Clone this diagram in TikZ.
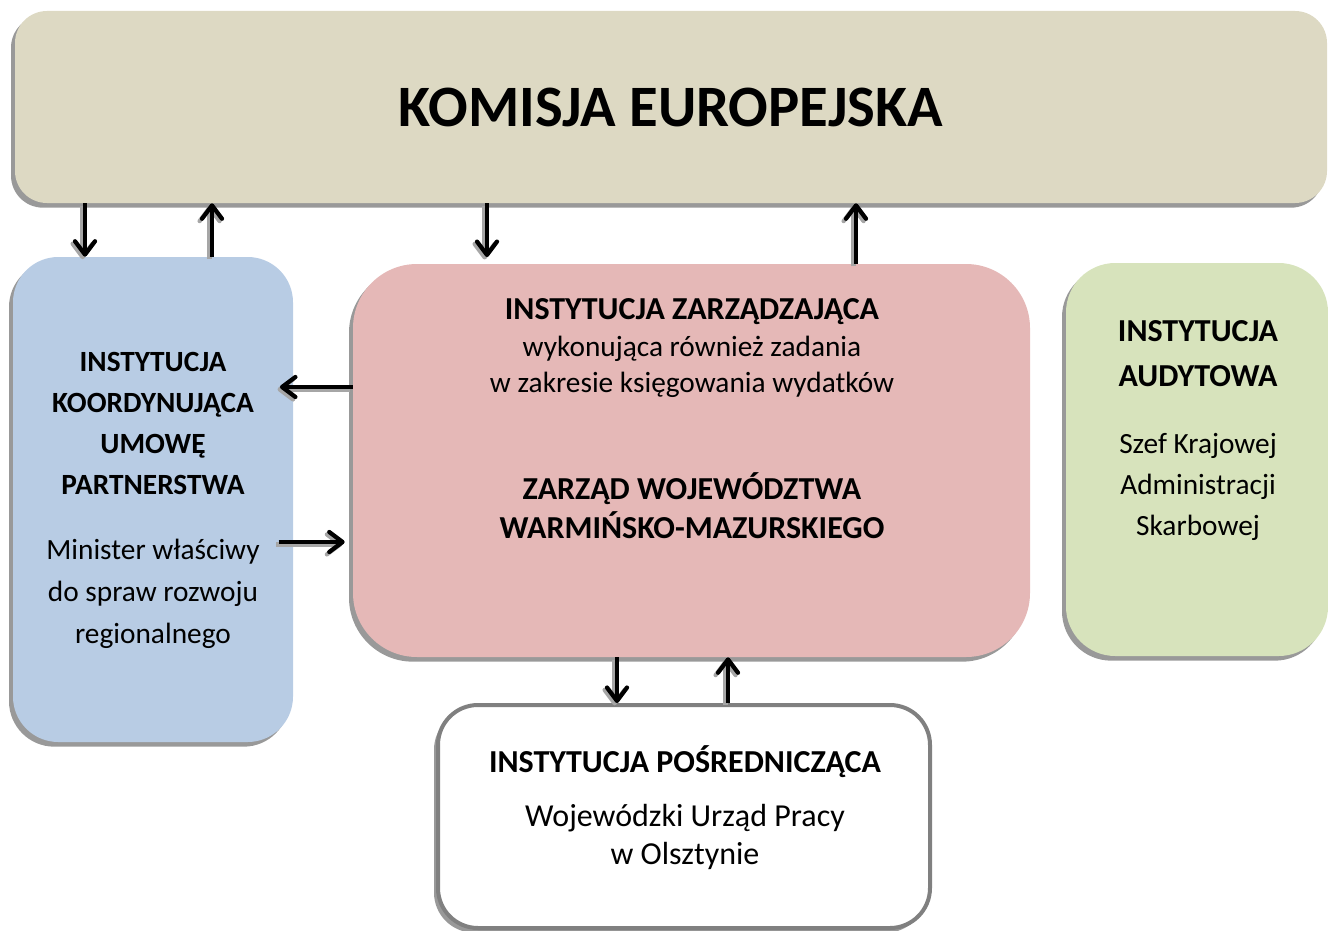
\documentclass[tikz,border=0pt]{standalone}
\usepackage{fontspec}
\setmainfont{Carlito}
\usetikzlibrary{arrows.meta,shadows}

\definecolor{keTan}{HTML}{DDD9C3}
\definecolor{ikBlue}{HTML}{B8CCE4}
\definecolor{izPink}{HTML}{E5B8B7}
\definecolor{iaGreen}{HTML}{D7E3BC}

\tikzset{
  box/.style={rounded corners=#1, inner sep=0pt,
    drop shadow={shadow xshift=-3pt, shadow yshift=-3.5pt, fill=black!40, opacity=1}},
  arr/.style={line width=3.2pt, -{Straight Barb[length=10pt,width=15pt,round]}},
  arrsh/.style={arr, draw=black!35, transform canvas={shift={(-1.8pt,-1.8pt)}}},
  txt/.style 2 args={align=center, inner sep=0pt, font=\fontsize{#1}{#2}\selectfont},
  head/.style 2 args={align=center, inner sep=0pt, font=\fontsize{#1}{#2}\selectfont\bfseries}
}

\begin{document}
\begin{tikzpicture}[x=0.75pt,y=-0.75pt]
    \useasboundingbox (0,0) rectangle (1328,931);
    % boxes
    \node[box=24pt, fill=keTan, minimum width=984pt, minimum height=144pt,
      font=\fontsize{44}{52}\selectfont\bfseries] (ke) at (671,107) {KOMISJA EUROPEJSKA};
    \node[box=34pt, fill=ikBlue, minimum width=210pt, minimum height=363.75pt] (ik) at (153,499.5) {};
    \node[box=48pt, fill=izPink, minimum width=507.75pt, minimum height=294.75pt] (iz) at (691.5,460.5) {};
    \node[box=37pt, fill=iaGreen, minimum width=196.5pt, minimum height=294.75pt] (ia) at (1197,459.5) {};
    \node[box=30pt, fill=white, draw=black!50, line width=3pt,
      minimum width=369pt, minimum height=167.25pt] (ip) at (684,816.5) {};
    % texts
    \node[head={22}{30.75pt}] (ik-head) at (153,423.5) {INSTYTUCJA\\KOORDYNUJĄCA\\UMOWĘ\\PARTNERSTWA};
    \node[txt={22}{31.5pt}] (ik-body) at (153,594) {Minister właściwy\\do spraw rozwoju\\regionalnego};
    \node[head={24}{27.4pt}] (iz-head) at (692,312) {INSTYTUCJA ZARZĄDZAJĄCA};
    \node[txt={22}{27.4pt}] (iz-sub) at (692,367) {wykonująca również zadania\\w zakresie księgowania wydatków};
    \node[head={24}{29.25pt}] (iz-body) at (692,505.5) {ZARZĄD WOJEWÓDZTWA\\WARMIŃSKO-MAZURSKIEGO};
    \node[head={24}{33.75pt}] (ia-head) at (1198,353.5) {INSTYTUCJA\\AUDYTOWA};
    \node[txt={22}{30.75pt}] (ia-body) at (1198,487) {Szef Krajowej\\Administracji\\Skarbowej};
    \node[head={24}{24pt}] (ip-head) at (685,762) {INSTYTUCJA POŚREDNICZĄCA};
    \node[txt={24}{28.5pt}] (ip-body) at (685,837) {Wojewódzki Urząd Pracy\\w Olsztynie};
    % connectors (shadow first, then arrow)
    \foreach \sty in {arrsh,arr} {
      \draw[\sty] (ke.south -| 85,0) -- (ik.north -| 85,0);
      \draw[\sty] (ik.north -| 212,0) -- (ke.south -| 212,0);
      \draw[\sty, shorten >=5pt] (ke.south -| 487,0) -- (iz.north -| 487,0);
      \draw[\sty] (iz.north -| 856,0) -- (ke.south -| 856,0);
      \draw[\sty, shorten >=-10pt] (iz.west |- 0,387) -- (ik.east |- 0,387);
      \draw[\sty, shorten <=-11pt, shorten >=6pt] (ik.east |- 0,542) -- (iz.west |- 0,542);
      \draw[\sty] (iz.south -| 617,0) -- (ip.north -| 617,0);
      \draw[\sty] (ip.north -| 728,0) -- (iz.south -| 728,0);
    }
\end{tikzpicture}
\end{document}
